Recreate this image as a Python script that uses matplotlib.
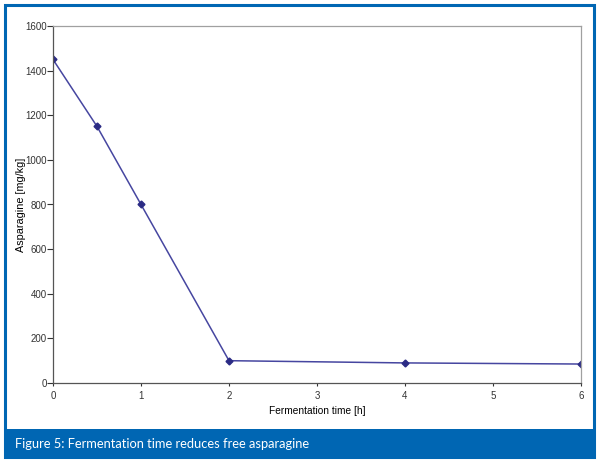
import matplotlib.pyplot as plt
from matplotlib.patches import Rectangle

# fermentation time [h] vs free asparagine [mg/kg]
time_h = [0, 0.5, 1, 2, 4, 6]
asparagine = [1450, 1150, 800, 100, 90, 85]
x_ticks = [0, 1, 2, 3, 4, 5, 6]
y_ticks = [0, 200, 400, 600, 800, 1000, 1200, 1400, 1600]

blue = '#0066b3'

fig = plt.figure(figsize=(6, 4.61), dpi=100)
W, H = 600, 461

# caption band and outer frame
fig.patches.append(Rectangle((5 / W, 1 - 457 / H), 589 / W, 28 / H, transform=fig.transFigure,
                             facecolor=blue, edgecolor='none', zorder=0))
fig.patches.append(Rectangle((5 / W, 1 - 457 / H), 589 / W, 452 / H, transform=fig.transFigure,
                             facecolor='none', edgecolor=blue, linewidth=2.2, zorder=1))
fig.text(15 / W, 1 - 444 / H, 'Figure 5: Fermentation time reduces free asparagine',
         color='white', fontsize=9.3, family='Lato', va='center', ha='left')

ax = fig.add_axes([53 / W, 1 - 383 / H, 528 / W, 357 / H])
ax.plot(time_h, asparagine, color='#4646a0', linewidth=1.1, marker='D', markersize=3.5,
        markerfacecolor='#2b2b85', markeredgecolor='#2b2b85')

ax.set_xlim(0, 6)
ax.set_ylim(0, 1600)
ax.set_xticks(x_ticks)
ax.set_yticks(y_ticks)
ax.tick_params(labelsize=7, width=0.8, colors='#333333')
ax.tick_params(axis='y', length=4, pad=0.5)
ax.tick_params(axis='x', length=2, pad=4)
for lab in ax.get_xticklabels() + ax.get_yticklabels():
    lab.set_family('Liberation Sans')
ax.spines['top'].set_color('#a0a0a0')
ax.spines['right'].set_color('#a0a0a0')
ax.spines['left'].set_color('#555555')
ax.spines['bottom'].set_color('#555555')
for s in ax.spines.values():
    s.set_linewidth(0.9)

ax.set_xlabel('Fermentation time [h]', fontsize=7.3, family='Liberation Sans', labelpad=3)
ax.set_ylabel('Asparagine [mg/kg]', fontsize=7.8, family='Liberation Sans', va='center')
ax.yaxis.set_label_coords(-32 / 528, 0.5)

plt.savefig('out.png', dpi=100)
